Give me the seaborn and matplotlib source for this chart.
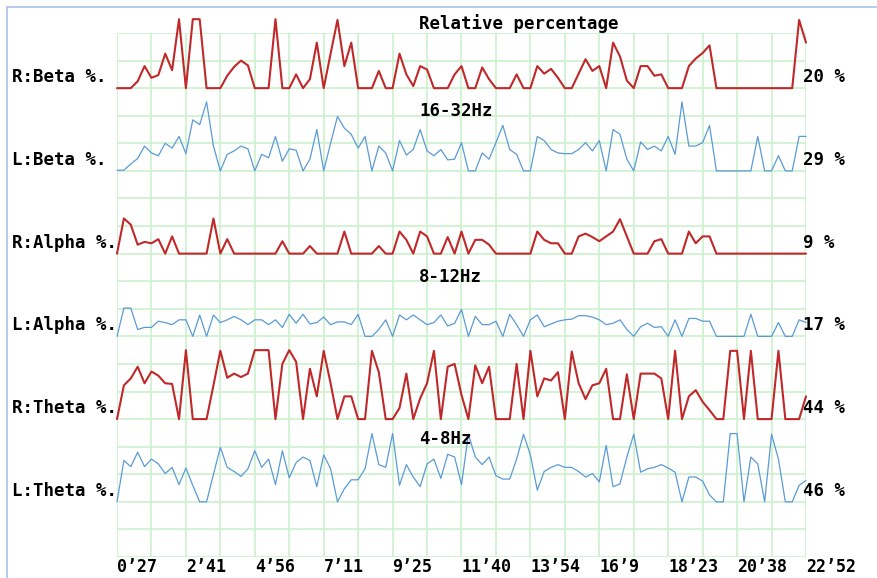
import numpy as np
import pandas as pd
import matplotlib
matplotlib.use("Agg")
import matplotlib.pyplot as plt
from matplotlib.lines import Line2D
import seaborn as sns

# traces, top to bottom; values are relative %, 100 = full trace height
traces = ["R:Beta", "L:Beta", "R:Alpha", "L:Alpha", "R:Theta", "L:Theta"]
right_labels = ["20 %", "29 %", "9 %", "17 %", "44 %", "46 %"]
bands = ["16-32Hz", "8-12Hz", "4-8Hz"]

r_beta = [0, 0, 0, 10, 32, 15, 19, 50, 26, 100, 0, 100, 100, 0, 0, 0, 18, 31, 40, 33,
          0, 0, 0, 100, 0, 0, 20, 0, 13, 66, 0, 50, 99, 32, 66, 0, 0, 0, 25, 0,
          0, 50, 20, 3, 32, 27, 0, 0, 0, 20, 32, 0, 0, 30, 13, 0, 0, 0, 20, 0,
          0, 32, 21, 28, 15, 0, 0, 21, 42, 25, 32, 0, 66, 46, 11, 0, 32, 32, 18, 20,
          0, 0, 0, 32, 43, 51, 62, 0, 0, 0, 0, 0, 0, 0, 0, 0, 0, 0, 0, 99, 66]
l_beta = [1, 1, 10, 18, 36, 26, 22, 40, 33, 50, 25, 74, 67, 100, 36, 0, 24, 29, 36, 32,
          0, 24, 19, 50, 14, 32, 30, 0, 17, 60, 0, 40, 79, 62, 53, 33, 50, 0, 36, 26,
          0, 44, 23, 31, 60, 29, 22, 31, 16, 17, 41, 0, 0, 26, 17, 41, 66, 31, 24, 0,
          0, 50, 44, 31, 26, 25, 25, 31, 41, 29, 44, 0, 60, 53, 17, 0, 42, 31, 36, 29,
          50, 24, 100, 36, 36, 41, 66, 0, 0, 0, 0, 0, 0, 50, 0, 0, 22, 0, 0, 50, 50]
r_alpha = [0, 51, 42, 13, 17, 15, 21, 0, 25, 0, 0, 0, 0, 0, 51, 0, 21, 0, 0, 0,
           0, 0, 0, 0, 18, 0, 0, 0, 11, 0, 0, 0, 0, 32, 0, 0, 0, 0, 11, 0,
           0, 32, 20, 0, 32, 25, 0, 0, 24, 0, 32, 0, 20, 20, 13, 0, 0, 0, 0, 0,
           0, 32, 20, 15, 15, 0, 0, 25, 29, 24, 18, 25, 32, 50, 25, 0, 0, 0, 18, 21,
           0, 0, 0, 32, 15, 25, 25, 0, 0, 0, 0, 0, 0, 0, 0, 0, 0, 0, 0, 0, 0]
l_alpha = [0, 41, 41, 10, 13, 13, 22, 20, 17, 24, 24, 0, 31, 0, 31, 20, 24, 29, 24, 17,
           24, 24, 17, 24, 13, 32, 19, 32, 18, 20, 28, 17, 21, 21, 17, 32, 0, 0, 10, 24,
           0, 31, 24, 31, 24, 17, 20, 31, 15, 19, 39, 0, 29, 17, 17, 22, 0, 32, 17, 0,
           24, 31, 14, 18, 22, 24, 25, 30, 30, 28, 24, 17, 19, 24, 10, 0, 14, 19, 13, 14,
           0, 24, 0, 26, 26, 22, 22, 0, 0, 0, 0, 0, 32, 0, 0, 0, 20, 0, 0, 24, 20]
r_theta = [0, 49, 59, 76, 52, 69, 63, 52, 51, 0, 100, 0, 0, 0, 49, 99, 60, 66, 61, 66,
           100, 100, 100, 0, 80, 100, 83, 0, 73, 33, 99, 52, 0, 33, 33, 0, 0, 99, 68, 0,
           0, 16, 66, 0, 30, 52, 99, 0, 76, 80, 35, 0, 78, 52, 76, 0, 0, 0, 80, 0,
           99, 33, 59, 56, 68, 0, 98, 52, 29, 49, 52, 73, 0, 0, 65, 0, 66, 66, 66, 59,
           0, 99, 0, 33, 42, 25, 13, 0, 0, 99, 99, 0, 99, 0, 0, 0, 99, 0, 0, 0, 33]
l_theta = [0, 60, 51, 72, 51, 62, 55, 41, 50, 25, 49, 24, 0, 0, 40, 79, 50, 44, 37, 48,
           74, 50, 62, 25, 74, 35, 57, 65, 60, 22, 68, 48, 0, 19, 32, 32, 48, 99, 54, 50,
           99, 24, 54, 36, 22, 55, 62, 34, 69, 65, 25, 98, 65, 54, 65, 38, 33, 33, 62, 98,
           68, 17, 44, 50, 54, 50, 50, 44, 36, 41, 29, 82, 22, 26, 65, 98, 43, 48, 50, 54,
           49, 43, 0, 36, 36, 30, 10, 0, 0, 99, 99, 0, 65, 55, 0, 98, 62, 0, 0, 24, 31]

series = [r_beta, l_beta, r_alpha, l_alpha, r_theta, l_theta]

# session time axis (seconds), first and last sample
t_start, t_end = 27, 1372
tick_labels = ["0’27", "2’41", "4’56", "7’11", "9’25", "11’40",
               "13’54", "16’9", "18’23", "20’38", "22’52"]

RED = "#c0282a"
BLUE = "#5b9bd5"
GRID = "#ccf0cc"

# each trace sits on its own baseline (grid rows), full height = 2.5 rows
bases = [17, 14, 11, 8, 5, 2]
amp = 2.5

times = np.linspace(t_start, t_end, len(r_beta))
frames = []
for name, vals, b in zip(traces, series, bases):
    frames.append(pd.DataFrame({"time": times, "y": b + np.array(vals) / 100 * amp,
                                "trace": name}))
df = pd.concat(frames, ignore_index=True)

sns.set_style("white")
plt.rcParams["font.family"] = ["DejaVu Sans Mono", "DejaVu Sans"]

fig = plt.figure(figsize=(8.78, 5.78), dpi=100)
ax = fig.add_axes([117 / 878, 21 / 578, 689 / 878, 524 / 578])

for name in traces:
    col = RED if name.startswith("R") else BLUE
    lw = 1.5 if col == RED else 0.9
    sns.lineplot(data=df[df["trace"] == name], x="time", y="y", color=col,
                 lw=lw, ax=ax, estimator=None, sort=False, clip_on=False, zorder=3)

ax.set_xlim(t_start, t_end)
ax.set_ylim(0, 19)
xt = np.linspace(t_start, t_end, 21)
ax.set_xticks(xt)
ax.set_xticklabels([tick_labels[i // 2] if i % 2 == 0 else "" for i in range(21)],
                   ha="left", fontsize=12, fontweight="bold", color="black")
ax.set_yticks(range(20))
ax.set_yticklabels([])
ax.tick_params(length=0, pad=1)
ax.grid(True, color=GRID, lw=1.2)
ax.set_axisbelow(True)
for s in ax.spines.values():
    s.set_visible(False)
ax.set_xlabel("")
ax.set_ylabel("")

txt = dict(fontsize=12.5, fontweight="bold", va="center", ha="left", color="black")
tr = ax.get_yaxis_transform()
for name, lab, b in zip(traces, right_labels, bases):
    ax.text(-0.1524, b + 0.4, name + " %.", transform=tr, **txt)
    ax.text(0.996, b + 0.4, lab, transform=tr, **txt)

ax.text(0.4383, 19.36, "Relative percentage", transform=tr, **txt)
for lab, yy in zip(bands, [16.17, 10.15, 4.28]):
    ax.text(0.4383, yy, lab, transform=tr, **txt)

# thin frame at the top and left of the window
fig.add_artist(Line2D([7 / 878, 7 / 878], [0, 1 - 7 / 578], color="#a8c2e6", lw=1.2))
fig.add_artist(Line2D([7 / 878, 1], [1 - 7 / 578, 1 - 7 / 578], color="#a8c2e6", lw=1.2))

fig.savefig("out.png", dpi=100)
